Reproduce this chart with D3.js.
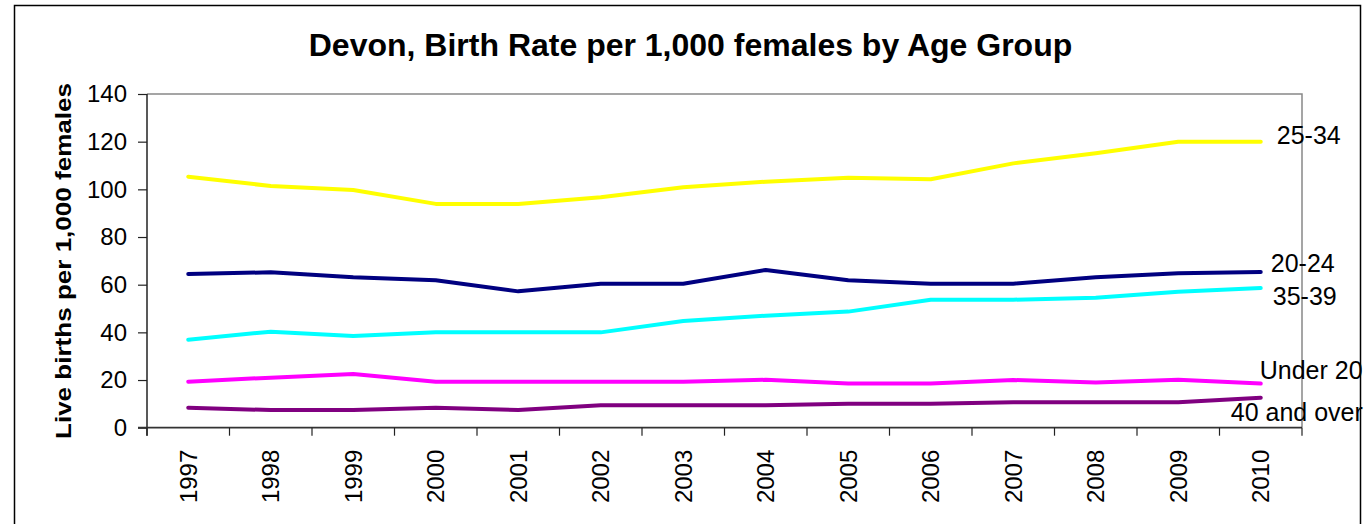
<!DOCTYPE html>
<html>
<head>
<meta charset="utf-8">
<script src="https://cdn.jsdelivr.net/npm/d3@7"></script>
<style>
  body { margin: 0; background: #fff; }
  text { font-family: Arial, "Liberation Sans", sans-serif; }
</style>
</head>
<body>
<div id="chart"></div>
<script>
// data
var years = ["1997","1998","1999","2000","2001","2002","2003","2004","2005","2006","2007","2008","2009","2010"];
var under20 = [19.3, 21.0, 22.5, 19.3, 19.3, 19.3, 19.3, 20.1, 18.5, 18.5, 20.0, 19.0, 20.1, 18.5];
var age20to24 = [64.5, 65.2, 63.1, 61.9, 57.2, 60.4, 60.4, 66.2, 61.9, 60.4, 60.4, 63.1, 64.8, 65.3];
var age25to34 = [105.3, 101.4, 99.7, 93.9, 93.9, 96.7, 100.9, 103.2, 104.9, 104.2, 110.9, 115.1, 120.0, 120.0];
var age35to39 = [36.9, 40.3, 38.5, 40.0, 40.0, 40.0, 44.8, 47.0, 48.7, 53.7, 53.7, 54.5, 57.0, 58.6];
var age40plus = [8.4, 7.4, 7.4, 8.4, 7.4, 9.4, 9.4, 9.4, 10.1, 10.1, 10.7, 10.7, 10.7, 12.6];
var seriesNames = ["25-34", "20-24", "35-39", "Under 20", "40 and over"];
var yTicks = [0, 20, 40, 60, 80, 100, 120, 140];

var series = [
  {name: seriesNames[0], values: age25to34, color: "#FFFF00", dx: 16, dy: 2.5},
  {name: seriesNames[1], values: age20to24, color: "#000080", dx: 10, dy: 0},
  {name: seriesNames[2], values: age35to39, color: "#00FFFF", dx: 12, dy: 16.5},
  {name: seriesNames[3], values: under20, color: "#FF00FF", dx: -1, dy: -4.5},
  {name: seriesNames[4], values: age40plus, color: "#800080", dx: -30, dy: 23.5}
];

var W = 1367, H = 524;
var plot = {left: 147, right: 1302, top: 94, bottom: 427.7};

var svg = d3.select("#chart").append("svg")
  .attr("width", W)
  .attr("height", H);

svg.append("rect")
  .attr("width", W).attr("height", H)
  .attr("fill", "#fff");

// outer frame
svg.append("rect")
  .attr("x", 14.5).attr("y", 5.5)
  .attr("width", 1346).attr("height", 540)
  .attr("fill", "none")
  .attr("stroke", "#000")
  .attr("stroke-width", 1.5);

var x = d3.scaleBand().domain(years).range([plot.left, plot.right]);
var y = d3.scaleLinear().domain([0, 140]).range([plot.bottom, plot.top]);

// grey frame on top and right of plot area
svg.append("path")
  .attr("d", "M" + plot.left + "," + plot.top + "H" + plot.right + "V" + plot.bottom)
  .attr("fill", "none")
  .attr("stroke", "#888")
  .attr("stroke-width", 1.5);

// y axis
var yAxis = svg.append("g")
  .attr("transform", "translate(" + plot.left + ",0)")
  .call(d3.axisLeft(y).tickValues(yTicks).tickSize(9).tickPadding(11).tickSizeOuter(0));
yAxis.select(".domain").attr("stroke", "#222").attr("stroke-width", 1.5)
  .attr("d", "M0," + plot.top + "V" + (plot.bottom + 8));
yAxis.selectAll(".tick line").attr("stroke", "#222").attr("stroke-width", 1.2);
yAxis.selectAll(".tick text")
  .attr("font-size", "24px")
  .attr("fill", "#000")
  .style("font-family", "Arial, 'Liberation Sans', sans-serif");

// x axis, ticks on band edges
var xAxis = svg.append("g")
  .attr("transform", "translate(0," + plot.bottom + ")");
xAxis.append("path")
  .attr("d", "M" + (plot.left - 9) + ",0H" + plot.right)
  .attr("stroke", "#333")
  .attr("stroke-width", 1.8);
var edges = years.map(function (d) { return x(d); }).concat([plot.right]);
xAxis.selectAll(".xtick").data(edges).enter().append("line")
  .attr("x1", function (d) { return d; })
  .attr("x2", function (d) { return d; })
  .attr("y1", 0).attr("y2", 8)
  .attr("stroke", "#222")
  .attr("stroke-width", 1.2);
xAxis.selectAll(".xlab").data(years).enter().append("text")
  .attr("transform", function (d) {
    return "translate(" + (x(d) + x.bandwidth() / 2 + 8.5) + ",22) rotate(-90)";
  })
  .attr("text-anchor", "end")
  .attr("font-size", "24px")
  .text(function (d) { return d; });

// lines
var line = d3.line()
  .x(function (d, i) { return x(years[i]) + x.bandwidth() / 2; })
  .y(function (d) { return y(d); });

svg.selectAll(".series").data(series).enter().append("path")
  .attr("d", function (s) { return line(s.values); })
  .attr("fill", "none")
  .attr("stroke", function (s) { return s.color; })
  .attr("stroke-width", 4)
  .attr("stroke-linejoin", "round")
  .attr("stroke-linecap", "round");

// series labels at line ends
var last = years.length - 1;
svg.selectAll(".lab").data(series).enter().append("text")
  .attr("x", function (s) { return x(years[last]) + x.bandwidth() / 2 + s.dx; })
  .attr("y", function (s) { return y(s.values[last]) + s.dy; })
  .attr("font-size", "25px")
  .text(function (s) { return s.name; });

// title
svg.append("text")
  .attr("x", 690.5).attr("y", 56)
  .attr("text-anchor", "middle")
  .attr("font-size", "32px")
  .attr("font-weight", "bold")
  .text("Devon, Birth Rate per 1,000 females by Age Group");

// y axis title
svg.append("text")
  .attr("transform", "translate(71,261) rotate(-90)")
  .attr("text-anchor", "middle")
  .attr("font-size", "22px")
  .attr("font-weight", "bold")
  .attr("textLength", 356)
  .attr("lengthAdjust", "spacingAndGlyphs")
  .text("Live births per 1,000 females");
</script>
</body>
</html>
